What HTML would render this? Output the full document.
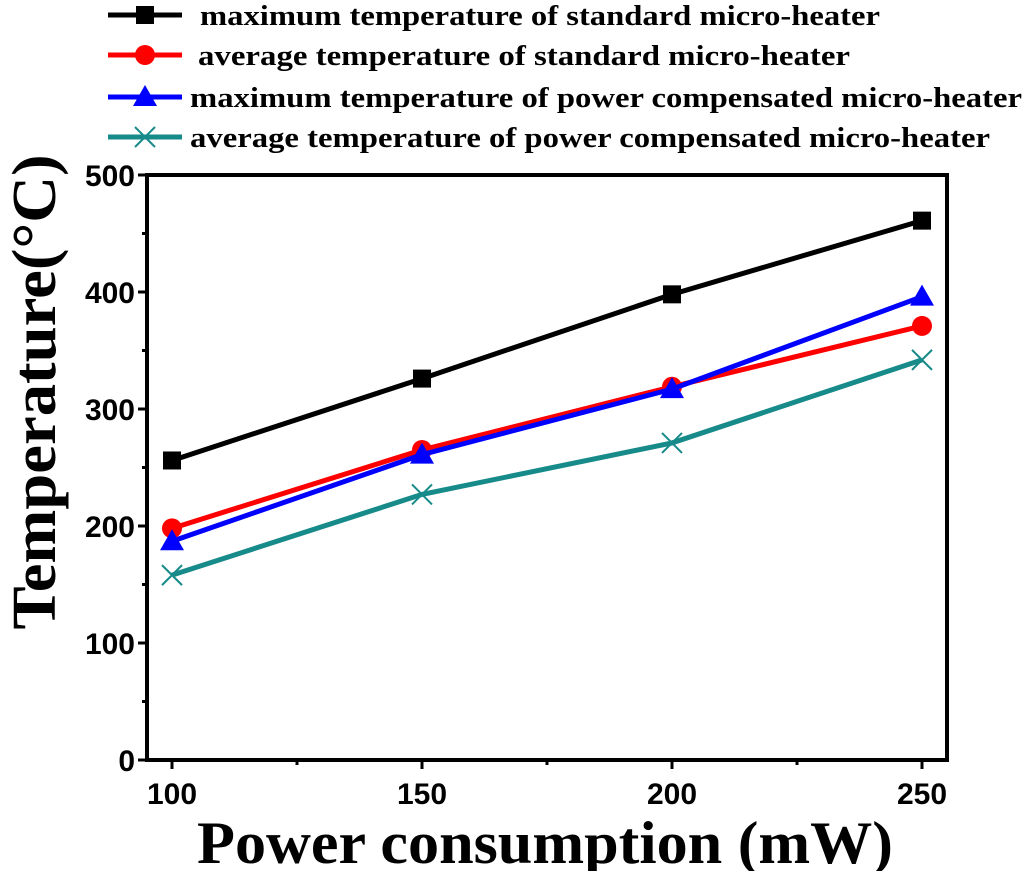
<!DOCTYPE html>
<html><head><meta charset="utf-8"><style>
body{margin:0;background:#fff}
svg text{font-family:"Liberation Sans",sans-serif}
</style></head><body>
<svg id="chart" width="1024" height="871" viewBox="0 0 1024 871" xmlns="http://www.w3.org/2000/svg">
<g id="plot"></g>
</svg>
<script>
const categories=[100,150,200,250];
const maxStd=[256,326,398,461];
const avgStd=[198,265,319,371];
const maxComp=[187,261,317,396];
const avgComp=[158,227,271,342];
const yTicks=[0,100,200,300,400,500];
const xTicks=[100,150,200,250];
const legendLabels=["maximum temperature of standard micro-heater","average temperature of standard micro-heater","maximum temperature of power compensated micro-heater","average temperature of power compensated micro-heater"];

const L=147,R=947,T=175,B=760;
const xs=v=>172+(v-100)*5;
const ys=v=>B-(v/500)*(B-T);
const NS="http://www.w3.org/2000/svg";
const g=document.getElementById('plot');
function mk(tag,attrs,parent){const e=document.createElementNS(NS,tag);for(const k in attrs)e.setAttribute(k,attrs[k]);(parent||g).appendChild(e);return e;}

const frame=mk('rect',{x:L,y:T,width:R-L,height:B-T,fill:'none',stroke:'#000','stroke-width':4});



yTicks.forEach(v=>{
  const y=ys(v);
  const t=mk('line',{x1:L-9,x2:L,y1:y,y2:y,stroke:'#000','stroke-width':3});
  
  
  const lb=mk('text',{x:L-12,y:y+11,'text-anchor':'end','font-size':30,'font-weight':'bold'});
  lb.textContent=v;
  
  
  if(v<500){const m=mk('line',{x1:L-5,x2:L,y1:ys(v+50),y2:ys(v+50),stroke:'#000','stroke-width':3});
  
  }
});
xTicks.forEach(v=>{
  const x=xs(v);
  const t=mk('line',{x1:x,x2:x,y1:B,y2:B+9,stroke:'#000','stroke-width':3});
  
  
  const lb=mk('text',{x:x,y:B+44,'text-anchor':'middle','font-size':30,'font-weight':'bold'});
  lb.textContent=v;
  
  
  if(v<250){const mx=xs(v+25);
  const m=mk('line',{x1:mx,x2:mx,y1:B,y2:B+5,stroke:'#000','stroke-width':3});
  
  }
});

const series=[
 {d:maxStd,c:'#000',m:'square',n:'series-max-standard'},
 {d:avgStd,c:'#ff0000',m:'circle',n:'series-avg-standard'},
 {d:maxComp,c:'#0000ff',m:'triangle',n:'series-max-compensated'},
 {d:avgComp,c:'#178a8a',m:'cross',n:'series-avg-compensated'}
];
function marker(type,x,y,c,parent){
  let e;
  if(type==='square')e=mk('rect',{x:x-9,y:y-9,width:18,height:18,fill:c},parent);
  else if(type==='circle')e=mk('circle',{cx:x,cy:y,r:10,fill:c},parent);
  else if(type==='triangle')e=mk('polygon',{points:`${x},${y-12} ${x-12},${y+9} ${x+12},${y+9}`,fill:c},parent);
  else e=mk('path',{d:`M${x-10},${y-10}L${x+10},${y+10}M${x+10},${y-10}L${x-10},${y+10}`,stroke:c,'stroke-width':2,fill:'none'},parent);
  return e;
}
series.forEach(s=>{
  const sg=mk('g',{});
  
  
  const pts=s.d.map((v,i)=>xs(categories[i])+','+ys(v)).join(' ');
  const pl=mk('polyline',{points:pts,fill:'none',stroke:s.c,'stroke-width':5},sg);
  
  
  s.d.forEach((v,i)=>{const mm=marker(s.m,xs(categories[i]),ys(v),s.c,sg);
    
    });
});

const ly=[15,55,97,137];
const lx=[200,198,190,190];
const lw=[680,652,832,800];
series.forEach((s,i)=>{
  const lg=mk('g',{});
  
  
  mk('line',{x1:108,x2:182,y1:ly[i],y2:ly[i],stroke:s.c,'stroke-width':5},lg);
  marker(s.m,145,ly[i],s.c,lg);
  const t=mk('text',{x:lx[i],y:ly[i]+10,'font-size':29,'font-weight':'bold',textLength:lw[i],lengthAdjust:'spacingAndGlyphs',style:'font-family:"Liberation Serif",serif'},lg);
  t.textContent=legendLabels[i];
});

const yt=mk('text',{x:0,y:0,transform:'translate(55,392) rotate(-90)','text-anchor':'middle','font-size':62,'font-weight':'bold',textLength:475,lengthAdjust:'spacingAndGlyphs',style:'font-family:"Liberation Serif",serif'});
yt.textContent='Temperature(°C)';


const xt=mk('text',{x:545,y:863,'text-anchor':'middle','font-size':60,'font-weight':'bold',textLength:696,lengthAdjust:'spacingAndGlyphs',style:'font-family:"Liberation Serif",serif'});
xt.textContent='Power consumption (mW)';


</script>
</body></html>
